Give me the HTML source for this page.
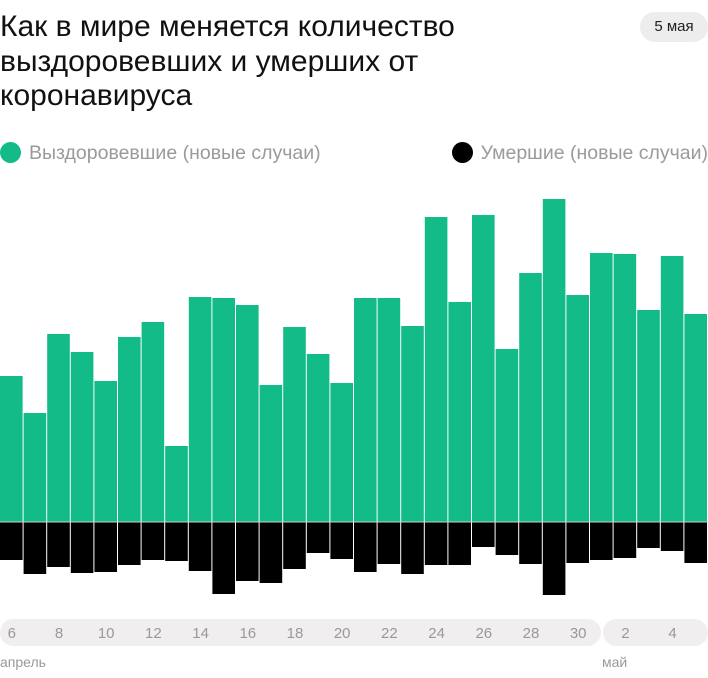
<!DOCTYPE html>
<html><head><meta charset="utf-8"><style>
body{margin:0;width:708px;height:678px;background:#fff;font-family:"Liberation Sans",sans-serif;position:relative;overflow:hidden}
.t{position:absolute;left:0;top:10px;font-size:30px;line-height:34.5px;color:#111;width:480px}
.badge{position:absolute;left:640px;top:12px;width:68px;height:30px;border-radius:15px;background:#ededed;font-size:15px;line-height:30px;text-align:center;color:#222}
.lg{position:absolute;top:142px;font-size:19.5px;color:#9a9a9a;line-height:22px;white-space:nowrap}
.dot{display:inline-block;width:21px;height:21px;border-radius:50%;vertical-align:-4px;margin-right:8px}
</style></head><body>
<div class="t">Как в мире меняется количество выздоровевших и умерших от коронавируса</div>
<div class="badge">5 мая</div>
<div class="lg" style="left:0"><span class="dot" style="background:#12bb87"></span>Выздоровевшие (новые случаи)</div>
<div class="lg" style="right:0"><span class="dot" style="background:#000"></span>Умершие (новые случаи)</div>
<svg width="708" height="678" style="position:absolute;left:0;top:0">
<g id="b"></g>
<line x1="0" y1="522" x2="708" y2="522" stroke="#ccc" stroke-width="1"/>
<rect x="0" y="619" width="601" height="27" rx="13.5" fill="#f0eeee"/>
<rect x="603" y="619" width="105" height="27" rx="13.5" fill="#f0eeee"/>
<g font-size="15" fill="#999" text-anchor="middle" font-family="Liberation Sans">
<text x="11.8" y="638">6</text><text x="59" y="638">8</text><text x="106.2" y="638">10</text><text x="153.4" y="638">12</text><text x="200.6" y="638">14</text><text x="247.8" y="638">16</text><text x="295" y="638">18</text><text x="342.2" y="638">20</text><text x="389.4" y="638">22</text><text x="436.6" y="638">24</text><text x="483.8" y="638">26</text><text x="531" y="638">28</text><text x="578.2" y="638">30</text><text x="625.4" y="638">2</text><text x="672.6" y="638">4</text>
</g>
<text x="0" y="667" font-size="14" fill="#999">апрель</text>
<text x="602" y="667" font-size="14" fill="#999">май</text>
</svg>
<script>
var t=[376,413,334,352,381,337,322,446,297,298,305,385,327,354,383,298,298,326,217,302,215,349,273,199,295,253,254,310,256,314];
var d=[560,574,567,573,572,565,560,561,571,594,581,583,569,553,559,572,564,574,565,565,547,555,564,595,563,560,558,548,551,563];
var s='';for(var i=0;i<30;i++){var x=i*23.6;
s+='<rect x="'+x+'" y="'+t[i]+'" width="22.6" height="'+(522-t[i])+'" fill="#12bb87"/>';
s+='<rect x="'+x+'" y="522" width="22.6" height="'+(d[i]-522)+'" fill="#000"/>';}
document.getElementById('b').innerHTML=s;
</script>
</body></html>
